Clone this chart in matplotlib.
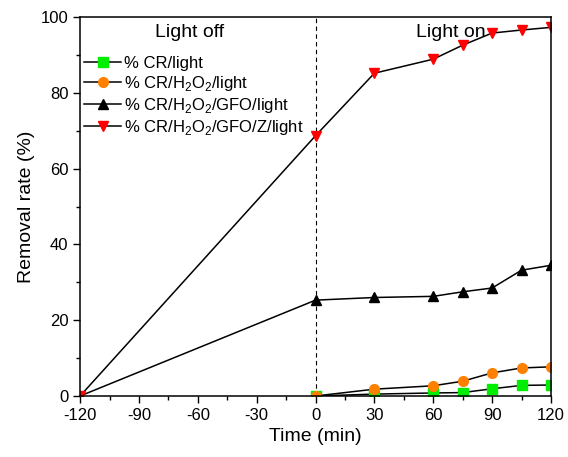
import matplotlib
matplotlib.use("Agg")
import matplotlib.pyplot as plt
from matplotlib.ticker import MultipleLocator

plt.rcParams['font.family'] = ['Liberation Sans', 'DejaVu Sans']
plt.rcParams['mathtext.fontset'] = 'custom'
plt.rcParams['mathtext.rm'] = 'Liberation Sans'
plt.rcParams['axes.unicode_minus'] = False

t_dark = [-120, 0]
t_light = [0, 30, 60, 75, 90, 105, 120]

cr_light = [0, 0.5, 0.8, 0.9, 1.9, 2.8, 2.9]
cr_h2o2 = [0, 1.8, 2.7, 3.9, 6.1, 7.4, 7.7]
cr_gfo = [0, 25.3, 26.0, 26.3, 27.5, 28.5, 33.2, 34.5]
cr_gfo_z = [0, 68.7, 85.2, 88.9, 92.6, 95.8, 96.6, 97.3]

t_full = [-120] + t_light

labels = ['% CR/light', '% CR/H$_2$O$_2$/light', '% CR/H$_2$O$_2$/GFO/light',
          '% CR/H$_2$O$_2$/GFO/Z/light']

fig = plt.figure(figsize=(5.68, 4.57), dpi=100)
ax = fig.add_axes([0.141, 0.1335, 0.829, 0.829])

ax.axvline(0, color='black', linestyle=(0, (4, 3)), linewidth=0.8)

ax.plot(t_light, cr_light, color='black', lw=1.1, marker='s', ms=6.5,
        mfc='#00ee00', mec='#00ee00', label=labels[0])
ax.plot(t_light, cr_h2o2, color='black', lw=1.1, marker='o', ms=7,
        mfc='#ff8000', mec='#ff8000', label=labels[1])
ax.plot(t_full, cr_gfo, color='black', lw=1.1, marker='^', ms=7.5,
        mfc='black', mec='black', label=labels[2])
ax.plot(t_full, cr_gfo_z, color='black', lw=1.1, marker='v', ms=7.5,
        mfc='#ff0000', mec='#ff0000', label=labels[3])

ax.set_xlim(-120, 120)
ax.set_ylim(0, 100)
ax.xaxis.set_major_locator(MultipleLocator(30))
ax.xaxis.set_minor_locator(MultipleLocator(15))
ax.yaxis.set_major_locator(MultipleLocator(20))
ax.yaxis.set_minor_locator(MultipleLocator(10))
ax.tick_params(which='both', direction='out', labelsize=12, width=1)
ax.tick_params(which='major', length=5)
ax.tick_params(which='minor', length=3)
for s in ax.spines.values():
    s.set_linewidth(1.1)

ax.set_xlabel('Time (min)', fontsize=14)
ax.set_ylabel('Removal rate (%)', fontsize=14)

ax.text(-64, 96, 'Light off', fontsize=14, ha='center', va='center')
ax.text(69, 96, 'Light on', fontsize=14, ha='center', va='center')

ax.legend(loc='upper left', bbox_to_anchor=(-0.005, 0.915), frameon=False,
          fontsize=12, handlelength=2.2, handletextpad=0.2, labelspacing=0.17,
          borderaxespad=0.0)

fig.savefig('out.png', dpi=100)
